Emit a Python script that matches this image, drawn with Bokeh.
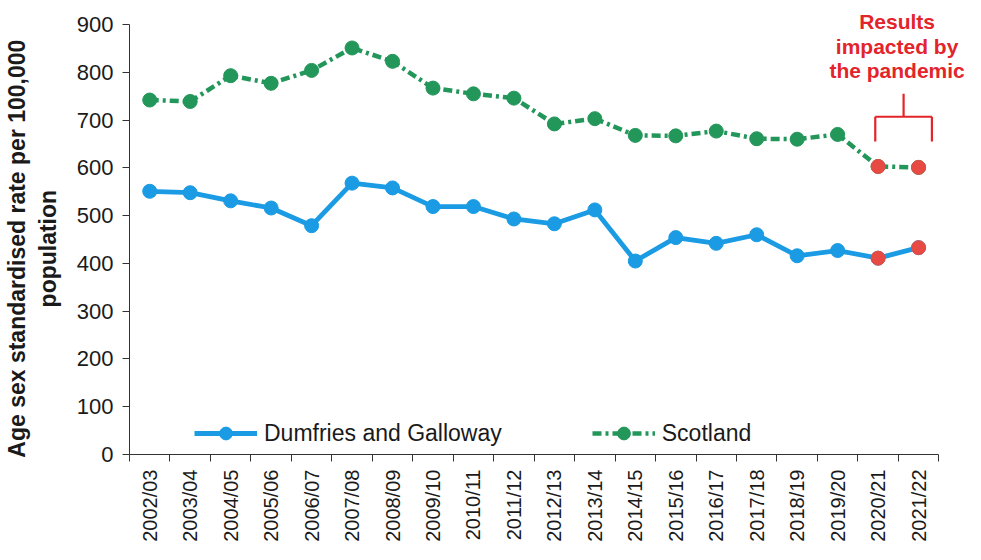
from bokeh.plotting import figure
from bokeh.models import Range1d, FixedTicker, Legend, LegendItem, Label
from bokeh.embed import file_html
from bokeh.resources import INLINE
import math

periods = ["2002/03", "2003/04", "2004/05", "2005/06", "2006/07", "2007/08", "2008/09",
           "2009/10", "2010/11", "2011/12", "2012/13", "2013/14", "2014/15", "2015/16",
           "2016/17", "2017/18", "2018/19", "2019/20", "2020/21", "2021/22"]
dumfries_galloway = [551, 548, 531, 516, 479, 568, 558, 519, 519, 493,
                     483, 512, 405, 454, 442, 460, 416, 427, 411, 433]
scotland = [742, 739, 793, 777, 804, 851, 823, 767, 755, 746,
            692, 703, 668, 667, 677, 661, 660, 670, 603, 601]
pandemic_periods = ["2020/21", "2021/22"]
y_ticks = [0, 100, 200, 300, 400, 500, 600, 700, 800, 900]

FONT = "Liberation Sans"
BLUE = "#1a9be3"
GREEN = "#23965a"
RED = "#e64a43"
TEXT_RED = "#e3242b"
NB = "\u00a0"

n = len(periods)
xs = [i + 0.5 for i in range(n)]
pidx = [periods.index(p) for p in pandemic_periods]

p = figure(width=965, height=544, output_backend="svg", toolbar_location=None,
           x_range=Range1d(0, n + 0.66), y_range=Range1d(0, 942),
           min_border_left=122, min_border_right=0, min_border_top=4, min_border_bottom=90)
p.outline_line_color = None
p.xgrid.grid_line_color = None
p.ygrid.grid_line_color = None
p.background_fill_color = "white"

dg_line = p.line(xs, dumfries_galloway, line_color=BLUE, line_width=4.8)
dg_pts = p.scatter(xs, dumfries_galloway, size=14, fill_color=BLUE, line_color=BLUE)
sc_line = p.line(xs, scotland, line_color=GREEN, line_width=4.5, line_dash="9 4 3 4")
sc_pts = p.scatter(xs, scotland, size=14, fill_color=GREEN, line_color=GREEN)

px = [xs[i] for i in pidx]
p.scatter(px, [dumfries_galloway[i] for i in pidx], size=14, fill_color=RED, line_color=RED)
p.scatter(px, [scotland[i] for i in pidx], size=14, fill_color=RED, line_color=RED)

# bracket annotation
left = xs[pidx[0]] - 0.07
right = xs[pidx[1]] + 0.33
mid = (left + right) / 2
p.segment(x0=[mid, left, left, right], y0=[755, 707, 707, 707],
          x1=[mid, right, left, right], y1=[707, 707, 655, 655],
          line_color=TEXT_RED, line_width=2.2)
tx = xs[pidx[1]] - 0.53
for txt, ty in [("Results", 906), ("impacted by", 855), ("the pandemic", 803)]:
    p.add_layout(Label(x=tx, y=ty, text=txt, text_align="center", text_baseline="middle",
                       text_font=FONT, text_font_size="21px", text_font_style="bold",
                       text_color=TEXT_RED))

# x axis
xa = p.xaxis[0]
xa.bounds = (0, n)
xa.ticker = FixedTicker(ticks=xs, minor_ticks=list(range(n + 1)))
xa.major_label_overrides = {x: lab for x, lab in zip(xs, periods)}
xa.major_label_orientation = math.pi / 2
xa.major_tick_out = 0
xa.major_tick_in = 0
xa.minor_tick_out = 7
xa.minor_tick_in = 0
xa.minor_tick_line_color = "#333333"
xa.axis_line_color = "#333333"
xa.major_label_text_font = FONT
xa.major_label_text_font_size = "20px"
xa.major_label_text_color = "#1a1a1a"
xa.major_label_standoff = 8

# y axis
ya = p.yaxis[0]
ya.bounds = (0, 900)
ya.ticker = FixedTicker(ticks=y_ticks)
ya.minor_tick_line_color = None
ya.major_tick_out = 7
ya.major_tick_in = 0
ya.axis_line_color = "#333333"
ya.major_tick_line_color = "#333333"
ya.major_label_text_font = FONT
ya.major_label_text_font_size = "22px"
ya.major_label_text_color = "#1a1a1a"
ya.major_label_standoff = 9
ya.axis_label = ("Age sex standardised rate per 100,000" + NB * 6 + "\n"
                 + "population" + NB * 6)
ya.axis_label_text_font = FONT
ya.axis_label_text_font_size = "23px"
ya.axis_label_text_font_style = "bold"
ya.axis_label_text_color = "#1a1a1a"
ya.axis_label_standoff = 13

legend = Legend(items=[LegendItem(label="Dumfries and Galloway", renderers=[dg_line, dg_pts]),
                       LegendItem(label="Scotland", renderers=[sc_line, sc_pts])],
                orientation="horizontal", location=(65, 5),
                glyph_width=63, glyph_height=32, label_height=32, label_standoff=7,
                spacing=90, padding=0, margin=0,
                background_fill_alpha=0, border_line_alpha=0,
                label_text_font=FONT, label_text_font_size="23px", label_text_color="#1a1a1a")
p.add_layout(legend)

open("out.html", "w").write(file_html(p, INLINE))
